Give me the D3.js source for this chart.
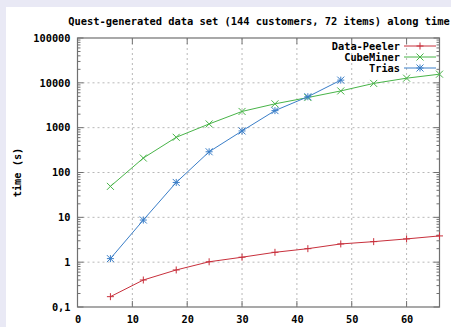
<!DOCTYPE html>
<html><head><meta charset="utf-8">
<script src="https://cdn.jsdelivr.net/npm/d3@7"></script>
<style>
html,body{margin:0;padding:0;background:#e9e9f5;}
svg{display:block;}
text{font-family:"DejaVu Sans Mono","Liberation Mono",monospace;font-weight:bold;fill:#000;}
</style></head>
<body><svg id="c" width="451" height="327"></svg>
<script>
const title = "Quest-generated data set (144 customers, 72 items) along time";
const yLabel = "time (s)";
const xTicks = [0, 10, 20, 30, 40, 50, 60];
const yTicks = [0.1, 1, 10, 100, 1000, 10000, 100000];
const yTickLabels = ["0,1", "1", "10", "100", "1000", "10000", "100000"];
const seriesNames = ["Data-Peeler", "CubeMiner", "Trias"];
const seriesColors = ["#c8303c", "#48b448", "#3a7ec8"];
const seriesMarkers = ["plus", "cross", "star"];
const peelerX = [6, 12, 18, 24, 30, 36, 42, 48, 54, 60, 66];
const peelerY = [0.17, 0.40, 0.67, 1.02, 1.29, 1.66, 2.0, 2.55, 2.87, 3.3, 3.85];
const cubeX = [6, 12, 18, 24, 30, 36, 42, 48, 54, 60, 66];
const cubeY = [49, 210, 610, 1210, 2300, 3400, 4700, 6600, 9700, 12700, 15600];
const triasX = [6, 12, 18, 24, 30, 36, 42, 48];
const triasY = [1.2, 8.7, 60, 290, 845, 2400, 4900, 11500];

const svg = d3.select("#c");
svg.append("rect").attr("x", 6).attr("y", 7).attr("width", 451).attr("height", 327).attr("fill", "#fff");

const L = 77.5, R = 439.5, T = 38, B = 307;
const x = d3.scaleLinear().domain([0, 66]).range([L, R]);
const y = d3.scaleLog().domain([0.1, 100000]).range([B, T]);

// grid
const g = svg.append("g");
xTicks.filter(v => v > 0).forEach(v => {
  g.append("line").attr("x1", x(v)).attr("x2", x(v)).attr("y1", T).attr("y2", B)
    .attr("stroke", "#b8b8b8").attr("stroke-dasharray", "2,3");
});
yTicks.filter(v => v > 0.1 && v < 100000).forEach(v => {
  g.append("line").attr("x1", L).attr("x2", R).attr("y1", y(v)).attr("y2", y(v))
    .attr("stroke", "#b8b8b8").attr("stroke-dasharray", "2,3");
});

// minor ticks
const minor = [];
for (let d = 0.1; d < 100000; d *= 10) for (let k = 2; k <= 9; k++) minor.push(d * k);
const tk = svg.append("g").attr("stroke", "#707070");
minor.forEach(v => {
  tk.append("line").attr("x1", L).attr("x2", L + 3).attr("y1", y(v)).attr("y2", y(v));
  tk.append("line").attr("x1", R).attr("x2", R - 3).attr("y1", y(v)).attr("y2", y(v));
});
yTicks.forEach(v => {
  tk.append("line").attr("x1", L).attr("x2", L + 6).attr("y1", y(v)).attr("y2", y(v));
  tk.append("line").attr("x1", R).attr("x2", R - 6).attr("y1", y(v)).attr("y2", y(v));
});
xTicks.forEach(v => {
  tk.append("line").attr("x1", x(v)).attr("x2", x(v)).attr("y1", B).attr("y2", B - 6);
  tk.append("line").attr("x1", x(v)).attr("x2", x(v)).attr("y1", T).attr("y2", T + 6);
});

// axes via d3 for labels
const xAxis = d3.axisBottom(x).tickValues(xTicks).tickSize(0).tickPadding(9);
const xa = svg.append("g").attr("transform", `translate(0,${B})`).call(xAxis);
xa.select(".domain").remove();
xa.selectAll("text").attr("font-size", "10.3px").attr("font-family", "DejaVu Sans Mono").attr("font-weight", "bold");
const yAxis = d3.axisLeft(y).tickValues(yTicks).tickSize(0).tickPadding(7)
  .tickFormat((d, i) => yTickLabels[i]);
const ya = svg.append("g").attr("transform", `translate(${L},0)`).call(yAxis);
ya.select(".domain").remove();
ya.selectAll("text").attr("font-size", "10.3px").attr("font-family", "DejaVu Sans Mono").attr("font-weight", "bold");

// border
svg.append("rect").attr("x", L).attr("y", T).attr("width", R - L).attr("height", B - T)
  .attr("fill", "none").attr("stroke", "#707070").attr("stroke-width", 1.2);

// title and labels
svg.append("text").attr("x", 259).attr("y", 25).attr("text-anchor", "middle")
  .attr("font-size", "10.4px").text(title);
svg.append("text").attr("transform", `translate(21,${(T + B) / 2}) rotate(-90)`)
  .attr("text-anchor", "middle").attr("font-size", "10.3px").text(yLabel);

function marker(sel, type, cx, cy, color) {
  const s = 3.5;
  const p = sel.append("path").attr("stroke", color).attr("fill", "none").attr("stroke-width", 1);
  let d = "";
  if (type === "plus") d = `M${cx - s},${cy}H${cx + s}M${cx},${cy - s}V${cy + s}`;
  else if (type === "cross") d = `M${cx - s},${cy - s}L${cx + s},${cy + s}M${cx - s},${cy + s}L${cx + s},${cy - s}`;
  else d = `M${cx - s},${cy}H${cx + s}M${cx},${cy - s}V${cy + s}M${cx - s},${cy - s}L${cx + s},${cy + s}M${cx - s},${cy + s}L${cx + s},${cy - s}`;
  p.attr("d", d);
}

const data = [
  peelerX.map((v, i) => [v, peelerY[i]]),
  cubeX.map((v, i) => [v, cubeY[i]]),
  triasX.map((v, i) => [v, triasY[i]])
];
const line = d3.line().x(d => x(d[0])).y(d => y(d[1]));

// legend
const legY = [46, 57, 68];
seriesNames.forEach((n, i) => {
  svg.append("text").attr("x", 400).attr("y", legY[i] + 3.5).attr("text-anchor", "end")
    .attr("font-size", "10.3px").text(n);
  svg.append("line").attr("x1", 404).attr("x2", 436).attr("y1", legY[i]).attr("y2", legY[i])
    .attr("stroke", seriesColors[i]);
  marker(svg, seriesMarkers[i], 420, legY[i], seriesColors[i]);
});

data.forEach((ds, i) => {
  svg.append("path").datum(ds).attr("d", line).attr("fill", "none")
    .attr("stroke", seriesColors[i]).attr("stroke-width", 1);
  ds.forEach(d => marker(svg, seriesMarkers[i], x(d[0]), y(d[1]), seriesColors[i]));
});
</script></body></html>
